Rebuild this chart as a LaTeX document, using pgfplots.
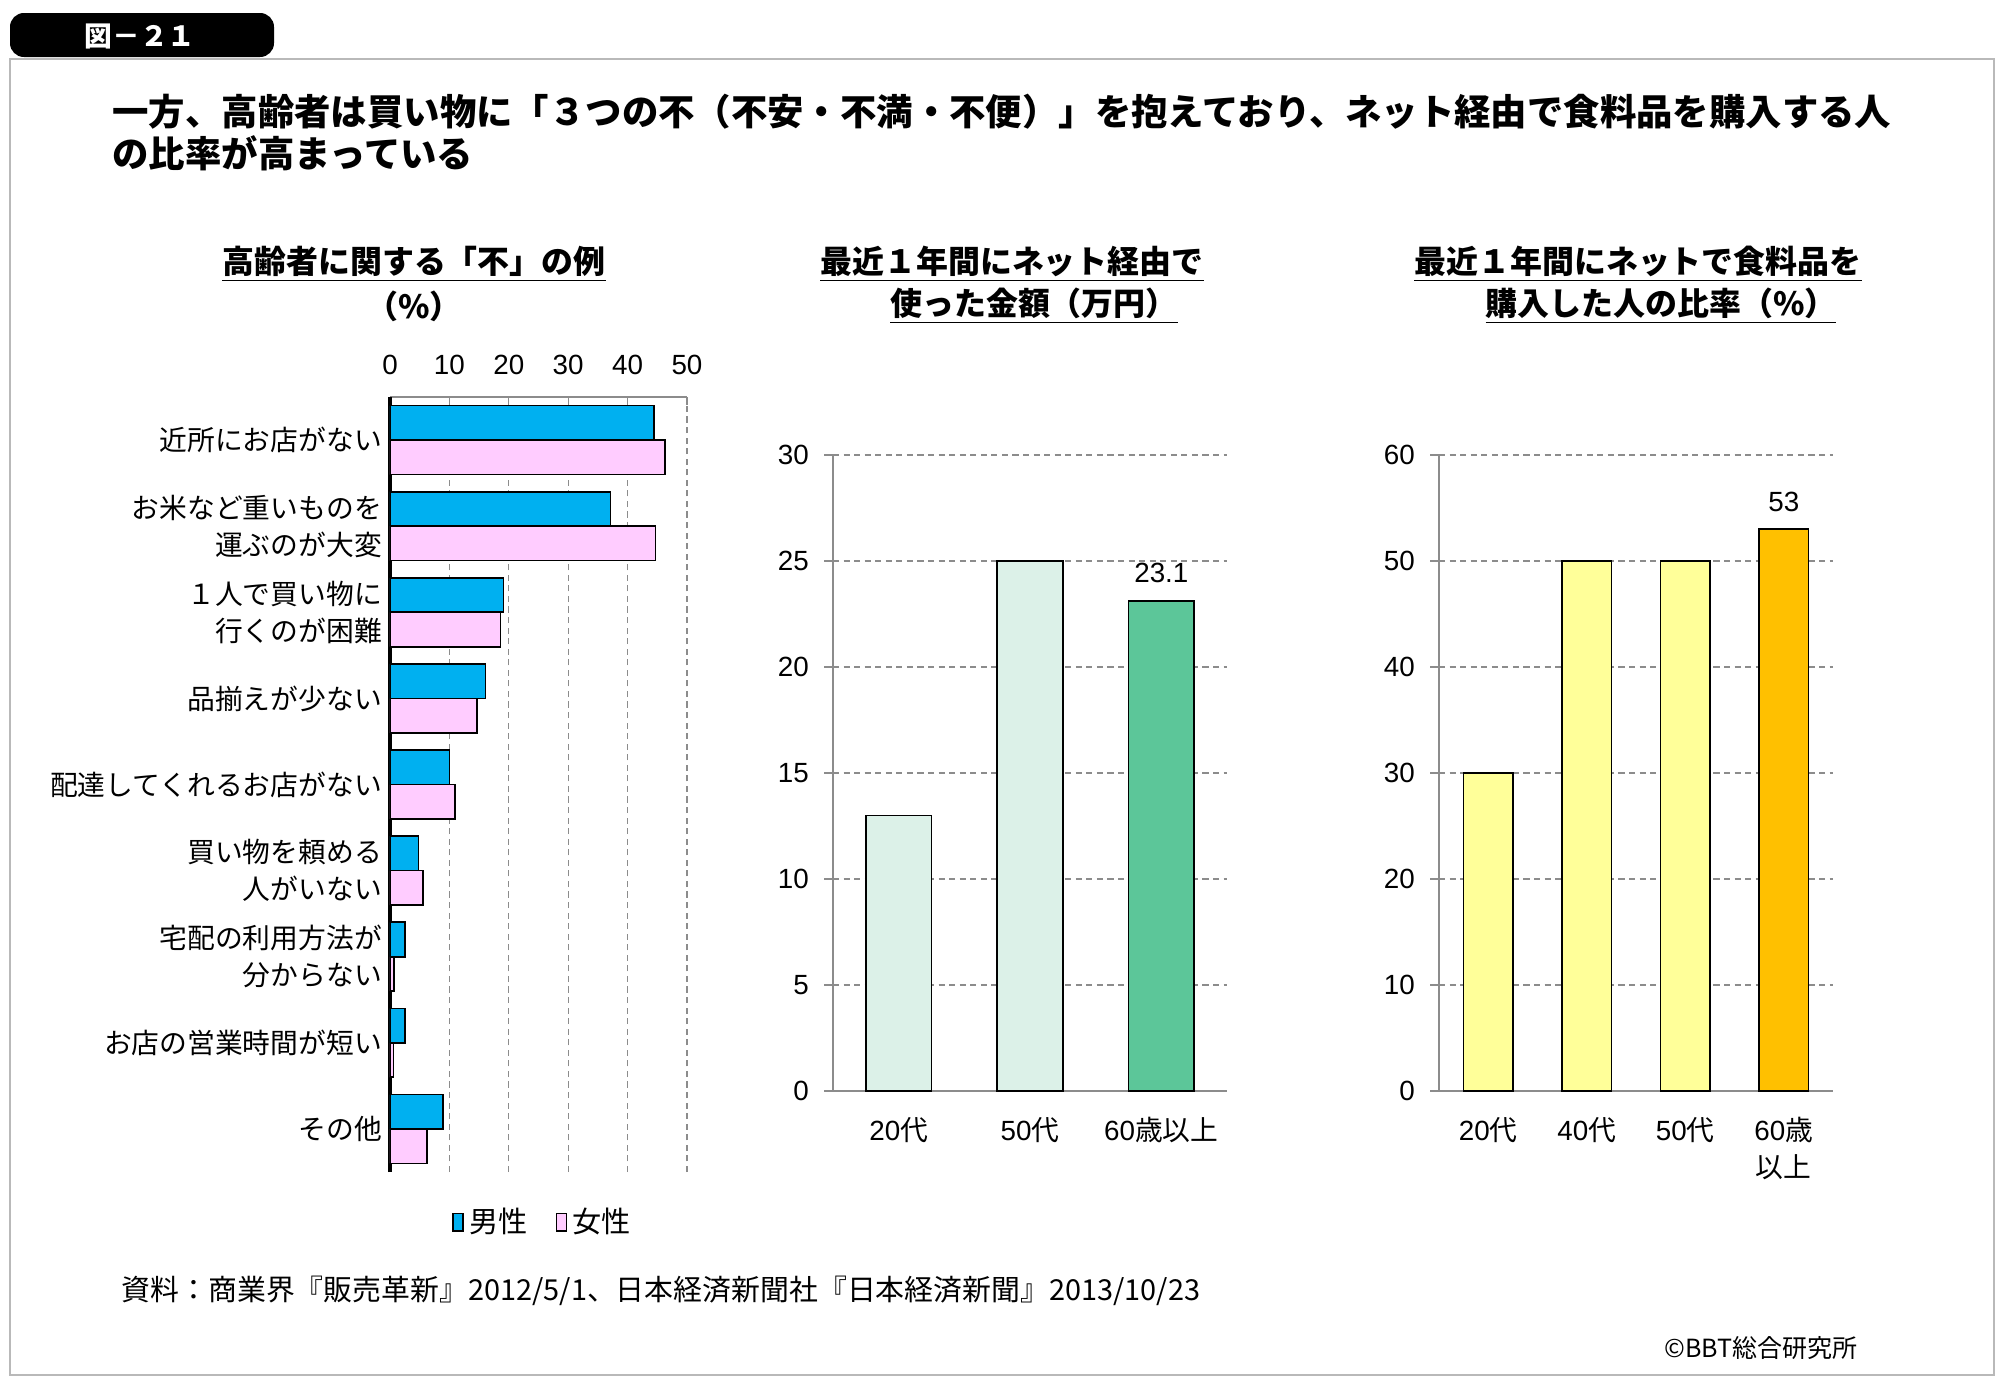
\documentclass[border=0pt]{standalone}
\usepackage{fontspec}
\usepackage{pgfplots}
\pgfplotsset{compat=1.18}
\setmainfont{Noto Sans CJK JP}
\newfontfamily\arial{Liberation Sans}
\definecolor{male}{HTML}{00B0F0}
\definecolor{female}{HTML}{FFCCFF}
\definecolor{mint}{HTML}{DCF1E8}
\definecolor{dkgreen}{HTML}{5CC699}
\definecolor{lyellow}{HTML}{FFFF99}
\definecolor{gold}{HTML}{FFC000}
\definecolor{gridc}{HTML}{8C8C8C}
\newcommand\lab{\fontsize{10}{13.3}\selectfont}
\newcommand\num{\arial\fontsize{10}{12}\selectfont}
\pgfplotstableread{
y male female
8 44.4 46.3
7 37.1 44.7
6 19.1 18.6
5 16.1 14.6
4 10.0 10.9
3 4.8 5.6
2 2.5 0.7
1 2.5 0.6
0 8.9 6.2
}\leftdata
\begin{document}
\begin{tikzpicture}
\begin{scope}[x=0.36pt,y=-0.36pt]
\path[use as bounding box] (0,0) rectangle (2000,1385);
\draw[gray!55, line width=0.6pt] (10,59) rectangle (1994,1375);
\fill[black, rounded corners=5pt] (10,13) rectangle (274,57);
\node[white, font=\bfseries\fontsize{10}{11}\selectfont] at (140,36) {図－２１};
\node[anchor=west, font=\bfseries\fontsize{13.1}{15}\selectfont, inner sep=0] at (112,112) {一方、高齢者は買い物に「３つの不（不安・不満・不便）」を抱えており、ネット経由で食料品を購入する人};
\node[anchor=west, font=\bfseries\fontsize{13.1}{15}\selectfont, inner sep=0] at (112,153) {の比率が高まっている};
\node[font=\bfseries\fontsize{11.5}{13}\selectfont] at (414,264) {\underline{高齢者に関する「不」の例}};
\node[font=\bfseries\fontsize{11.5}{13}\selectfont] at (414,306) {（\%）};
\node[font=\bfseries\fontsize{11.5}{13}\selectfont] at (1012,264) {\underline{最近１年間にネット経由で}};
\node[font=\bfseries\fontsize{11.5}{13}\selectfont] at (1034,306) {\underline{使った金額（万円）}};
\node[font=\bfseries\fontsize{11.5}{13}\selectfont] at (1638,264) {\underline{最近１年間にネットで食料品を}};
\node[font=\bfseries\fontsize{11.5}{13}\selectfont] at (1661,306) {\underline{購入した人の比率（\%）}};
\node[anchor=west, font=\fontsize{10.4}{13}\selectfont, inner sep=0] at (121,1291) {資料：商業界『販売革新』2012/5/1、日本経済新聞社『日本経済新聞』2013/10/23};
\node[anchor=east, font=\fontsize{9}{11}\selectfont, inner sep=0] at (1858,1348) {©BBT総合研究所};
\end{scope}

% left chart
\begin{axis}[
  at={(140.4pt,-421.92pt)}, anchor=south west,
  width=106.92pt, height=279pt, scale only axis,
  xbar, bar width=0.4,
  xmin=0, xmax=50, ymin=-0.5, ymax=8.5,
  axis x line*=top, axis y line*=left,
  xtick={0,10,...,50}, ytick={0,...,8},
  yticklabels={その他, お店の営業時間が短い, {宅配の利用方法が\\分からない}, {買い物を頼める\\人がいない}, 配達してくれるお店がない, 品揃えが少ない, {１人で買い物に\\行くのが困難}, {お米など重いものを\\運ぶのが大変}, 近所にお店がない},
  yticklabel style={align=right, font=\lab, xshift=3.6pt},
  xticklabel style={font=\num, yshift=4.5pt},
  /pgf/number format/assume math mode=true,
  major tick length=3pt,
  major y tick style={draw=none},
  major x tick style={gridc, line width=0.5pt},
  xmajorgrids, grid style={gridc, line width=0.5pt, dash pattern=on 2.2pt off 1.6pt},
  x axis line style={gridc, line width=0.5pt},
  y axis line style={black, line width=1.2pt},
  legend columns=2,
  legend style={draw=none, at={(0.52,-0.065)}, anchor=center, font=\fontsize{10.5}{13}\selectfont, /tikz/every even column/.append style={column sep=8pt}},
  legend image code/.code={\draw[#1, draw=black, line width=0.5pt] (0cm,-0.11cm) rectangle (0.13cm,0.11cm);},
]
\addplot[fill=male, draw=black, line width=0.6pt, bar shift=0.2] table[x=male, y=y] {\leftdata};
\addplot[fill=female, draw=black, line width=0.6pt, bar shift=-0.2] table[x=female, y=y] {\leftdata};
\legend{男性, 女性}
\end{axis}

% middle chart
\begin{axis}[
  at={(299.88pt,-392.76pt)}, anchor=south west,
  width=141.84pt, height=228.96pt, scale only axis,
  ybar, bar shift=0pt, bar width=0.5,
  xmin=-0.5, xmax=2.5, ymin=0, ymax=30,
  axis x line*=bottom, axis y line*=left,
  xtick={0,1,2}, xticklabels={{\arial 20}代, {\arial 50}代, {\arial 60}歳以上},
  ytick={0,5,...,30},
  xticklabel style={font=\lab, yshift=-2.7pt},
  yticklabel style={font=\num, xshift=-2pt},
  /pgf/number format/assume math mode=true,
  tick align=outside, major tick length=3.2pt,
  major x tick style={draw=none},
  major y tick style={gridc, line width=0.6pt},
  ymajorgrids, grid style={gridc, line width=0.5pt, dash pattern=on 2.2pt off 1.6pt},
  axis line style={gridc, line width=0.7pt},
  clip=false,
]
\addplot[fill=mint, draw=black, line width=0.6pt] coordinates {(0,13) (1,25)};
\addplot[fill=dkgreen, draw=black, line width=0.6pt, nodes near coords, nodes near coords style={font=\num, color=black, yshift=3pt}] coordinates {(2,23.1)};
\end{axis}

% right chart
\begin{axis}[
  at={(518.04pt,-392.76pt)}, anchor=south west,
  width=141.84pt, height=228.96pt, scale only axis,
  ybar, bar shift=0pt, bar width=0.5,
  xmin=-0.5, xmax=3.5, ymin=0, ymax=60,
  axis x line*=bottom, axis y line*=left,
  xtick={0,1,2,3}, xticklabels={{\arial 20}代, {\arial 40}代, {\arial 50}代, {{\arial 60}歳\\以上}},
  ytick={0,10,...,60},
  xticklabel style={font=\lab, align=center, anchor=north, yshift=-2.7pt},
  yticklabel style={font=\num, xshift=-2pt},
  /pgf/number format/assume math mode=true,
  tick align=outside, major tick length=3.2pt,
  major x tick style={draw=none},
  major y tick style={gridc, line width=0.6pt},
  ymajorgrids, grid style={gridc, line width=0.5pt, dash pattern=on 2.2pt off 1.6pt},
  axis line style={gridc, line width=0.7pt},
  clip=false,
]
\addplot[fill=lyellow, draw=black, line width=0.6pt] coordinates {(0,30) (1,50) (2,50)};
\addplot[fill=gold, draw=black, line width=0.6pt, nodes near coords, nodes near coords style={font=\num, color=black, yshift=2.5pt}] coordinates {(3,53)};
\end{axis}
\end{tikzpicture}
\end{document}
